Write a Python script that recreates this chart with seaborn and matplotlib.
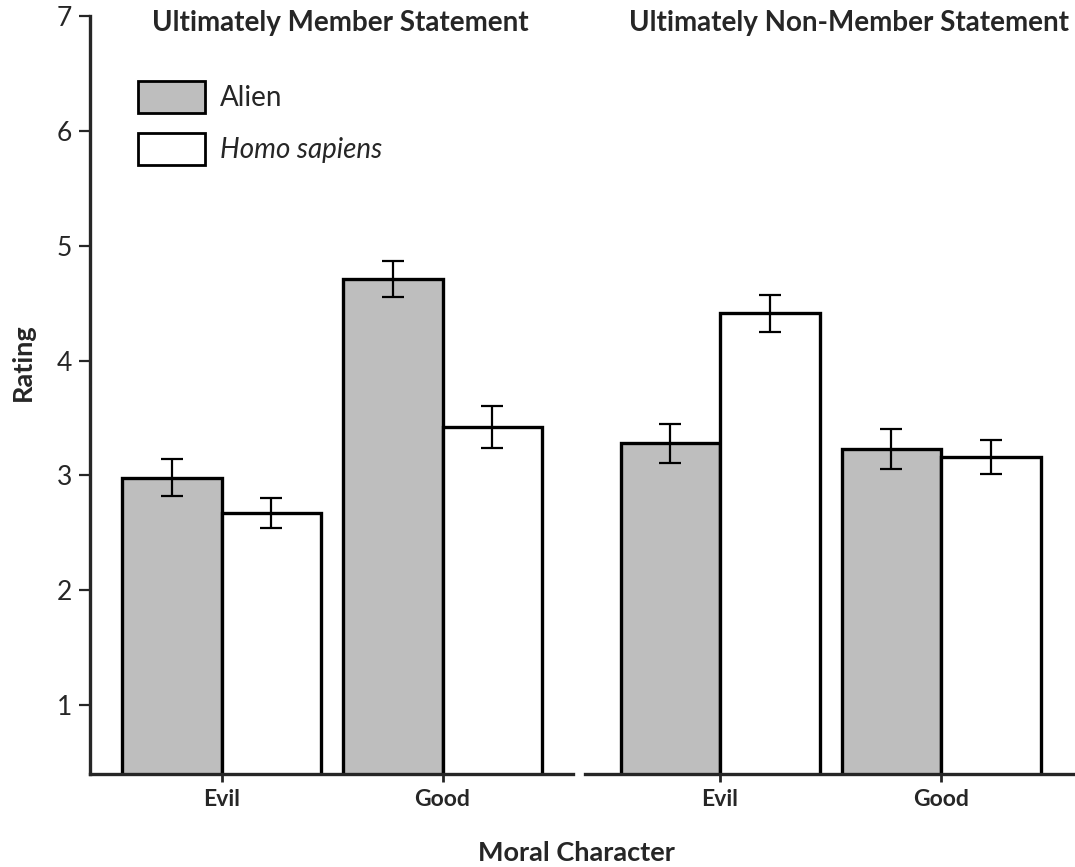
import numpy as np
import pandas as pd
import matplotlib
matplotlib.use("Agg")
import matplotlib.pyplot as plt
import seaborn as sns

# Mean ratings and standard errors by statement type, moral character and species
statements = ["Ultimately Member Statement", "Ultimately Non-Member Statement"]
characters = ["Evil", "Good"]
species = ["Alien", "Homo sapiens"]

member_alien = [2.98, 4.71]
member_homo = [2.67, 3.42]
nonmember_alien = [3.28, 3.23]
nonmember_homo = [4.41, 3.16]

member_alien_se = [0.16, 0.16]
member_homo_se = [0.13, 0.18]
nonmember_alien_se = [0.17, 0.17]
nonmember_homo_se = [0.16, 0.15]

y_ticks = [1, 2, 3, 4, 5, 6, 7]

rows = []
for stmt, a, h, ase, hse in [
    (statements[0], member_alien, member_homo, member_alien_se, member_homo_se),
    (statements[1], nonmember_alien, nonmember_homo, nonmember_alien_se, nonmember_homo_se),
]:
    for i, ch in enumerate(characters):
        rows.append(dict(statement=stmt, character=ch, species=species[0], rating=a[i], se=ase[i]))
        rows.append(dict(statement=stmt, character=ch, species=species[1], rating=h[i], se=hse[i]))
df = pd.DataFrame(rows)

sns.set_theme(style="ticks")
plt.rcParams["font.family"] = ["Lato", "DejaVu Sans"]

W, H = 1075, 867
fig = plt.figure(figsize=(W / 100, H / 100), dpi=100)


def px_axes(x0, x1, ytop, ybot):
    return fig.add_axes([x0 / W, (H - ybot) / H, (x1 - x0) / W, (ybot - ytop) / H])


ax_left = px_axes(90, 573, 16, 774)
ax_right = px_axes(585, 1075, 16, 774)

palette = {species[0]: "#bebebe", species[1]: "#ffffff"}

for ax, stmt in [(ax_left, statements[0]), (ax_right, statements[1])]:
    sub = df[df["statement"] == stmt]
    sns.barplot(
        data=sub, x="character", y="rating", hue="species",
        order=characters, hue_order=species, palette=palette,
        errorbar=None, width=0.9, edgecolor="black", linewidth=2.4,
        legend=(ax is ax_left), ax=ax, zorder=2,
    )
    # Standard error bars centred on each bar
    for cont, sp in zip(ax.containers, species):
        vals = sub[sub["species"] == sp].set_index("character").loc[characters]
        xs = [p.get_x() + p.get_width() / 2 for p in cont]
        ax.errorbar(xs, vals["rating"].values, yerr=vals["se"].values, fmt="none",
                    ecolor="black", elinewidth=1.6, capsize=8, capthick=1.6, zorder=3)
    ax.set_ylim(0.4, 7)
    ax.set_xlabel("")
    ax.set_ylabel("")
    for s in ["top", "right"]:
        ax.spines[s].set_visible(False)
    ax.spines["bottom"].set_linewidth(2.4)
    ax.tick_params(axis="x", length=6, width=2.0, pad=5, labelsize=16.5)
    for t in ax.get_xticklabels():
        t.set_fontweight("bold")

ax_left.set_xlim(-0.597, 1.591)
ax_right.set_xlim(-0.611, 1.606)

ax_left.spines["left"].set_linewidth(2.4)
ax_left.set_yticks(y_ticks)
ax_left.tick_params(axis="y", length=8, width=1.6, pad=5, labelsize=19)

ax_right.spines["left"].set_visible(False)
ax_right.set_yticks([])

# Legend inside the left panel
handles, labels = ax_left.get_legend_handles_labels()
leg = ax_left.legend(
    handles, labels, loc="upper left", bbox_to_anchor=((138 - 90) / 483, (774 - 81) / 758),
    frameon=False, fontsize=20, handlelength=2.4, handleheight=1.4,
    handletextpad=0.55, labelspacing=0.72, borderpad=0, borderaxespad=0,
)
for p in leg.get_patches():
    p.set_linewidth(2.0)
leg.get_texts()[1].set_style("italic")

# Panel titles
fig.text(340 / W, (H - 31) / H, statements[0], ha="center", va="baseline",
         fontsize=20, fontweight="bold")
fig.text(849 / W, (H - 31) / H, statements[1], ha="center", va="baseline",
         fontsize=20, fontweight="bold")

# Shared axis titles
fig.text(23 / W, (H - 362) / H, "Rating", rotation=90, ha="center", va="center",
         fontsize=19.5, fontweight="bold")
fig.text(576 / W, (H - 853) / H, "Moral Character", ha="center", va="center",
         fontsize=19.5, fontweight="bold")

fig.savefig("out.png", dpi=100, facecolor="white")
